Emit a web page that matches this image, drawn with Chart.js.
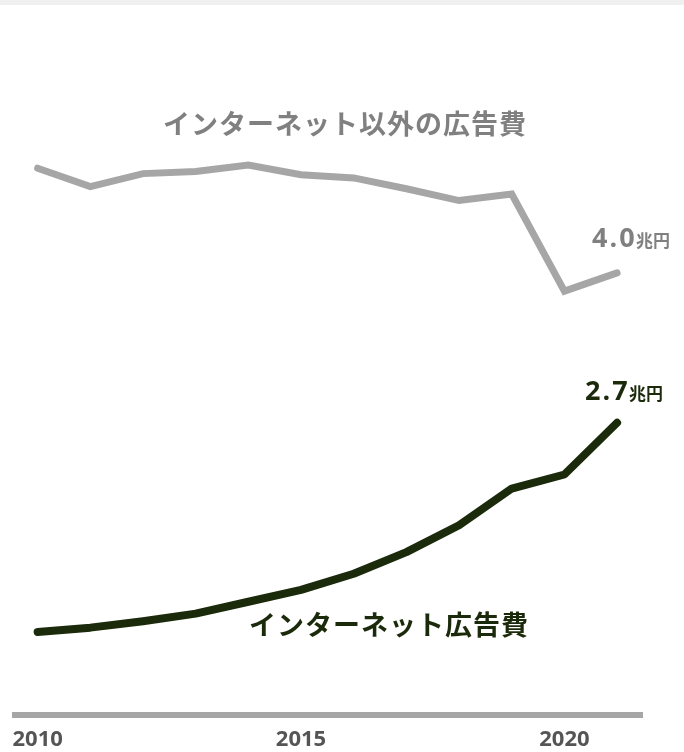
<!DOCTYPE html>
<html><head><meta charset="utf-8">
<script src="https://cdn.jsdelivr.net/npm/chart.js@4/dist/chart.umd.min.js"></script>
<style>
html,body{margin:0;padding:0;background:#fff;}
#band{height:5px;background:#f0f0f0;}
#wrap{width:684px;height:747px;}
</style></head>
<body><div id="band"></div><div id="wrap"><canvas id="c" width="684" height="747"></canvas></div>
<script>
const years = [2010,2011,2012,2013,2014,2015,2016,2017,2018,2019,2020,2021];
const internetAd = [0.77,0.81,0.87,0.94,1.05,1.16,1.31,1.51,1.76,2.10,2.23,2.71];
const otherAd = [5.07,4.90,5.02,5.04,5.10,5.01,4.98,4.88,4.77,4.83,3.93,4.10];
const tickYears = [2010,2015,2020];
const labelOther = 'インターネット以外の広告費';
const labelNet = 'インターネット広告費';
const endOther = '4.0';
const endNet = '2.7';
const unit = '兆円';

const GRAY='#a6a6a6', GRAYTXT='#808080', GREEN='#1b2a0b';
const FONT='"Noto Sans CJK JP","Noto Sans",sans-serif';
const NUMFONT='"Open Sans","Noto Sans",sans-serif';

const textPlugin = {
  id:'texts',
  afterDraw(chart){
    const ctx = chart.ctx;
    ctx.save();
    ctx.letterSpacing = '1px';
    ctx.textAlign='left';
    ctx.textBaseline='middle';
    ctx.font = 'bold 27px '+FONT;
    ctx.fillStyle = GRAYTXT;
    ctx.fillText(labelOther, 163, 119);
    ctx.fillStyle = GREEN;
    ctx.fillText(labelNet, 249, 620);
    ctx.textBaseline='alphabetic';
    ctx.letterSpacing = '2px';
    ctx.font = 'bold 27px '+NUMFONT;
    ctx.fillStyle = GRAYTXT;
    ctx.fillText(endOther, 592, 242);
    ctx.fillStyle = GREEN;
    ctx.fillText(endNet, 585, 395);
    ctx.letterSpacing = '0px';
    ctx.font = 'bold 17px '+FONT;
    ctx.fillStyle = GRAYTXT;
    ctx.fillText(unit, 636, 242);
    ctx.fillStyle = GREEN;
    ctx.fillText(unit, 629, 395);
    ctx.restore();
  }
};

new Chart(document.getElementById('c'), {
  type:'line',
  data:{
    datasets:[
      {data: years.map((y,i)=>({x:y,y:otherAd[i]})), borderColor:GRAY, borderWidth:7, pointRadius:0, borderCapStyle:'round', borderJoinStyle:'miter', tension:0},
      {data: years.map((y,i)=>({x:y,y:internetAd[i]})), borderColor:GREEN, borderWidth:8, pointRadius:0, borderCapStyle:'round', borderJoinStyle:'round', tension:0}
    ]
  },
  options:{
    responsive:false,
    animation:false,
    events:[],
    layout:{padding:{left:13,right:42,top:9,bottom:0}},
    plugins:{legend:{display:false},tooltip:{enabled:false}},
    scales:{
      x:{
        type:'linear', min:2009.565, max:2021.473,
        afterBuildTicks(s){ s.ticks = tickYears.map(v=>({value:v})); },
        afterFit(s){ s.height = 37; },
        grid:{display:false, drawTicks:false},
        border:{display:true, color:GRAY, width:6},
        ticks:{color:'#555', padding:12, maxRotation:0, autoSkip:false, font:{family:NUMFONT, size:22, weight:'bold'}, callback:v=>String(v)}
      },
      y:{display:false, min:0, max:6.5}
    }
  },
  plugins:[textPlugin]
});
</script></body></html>
